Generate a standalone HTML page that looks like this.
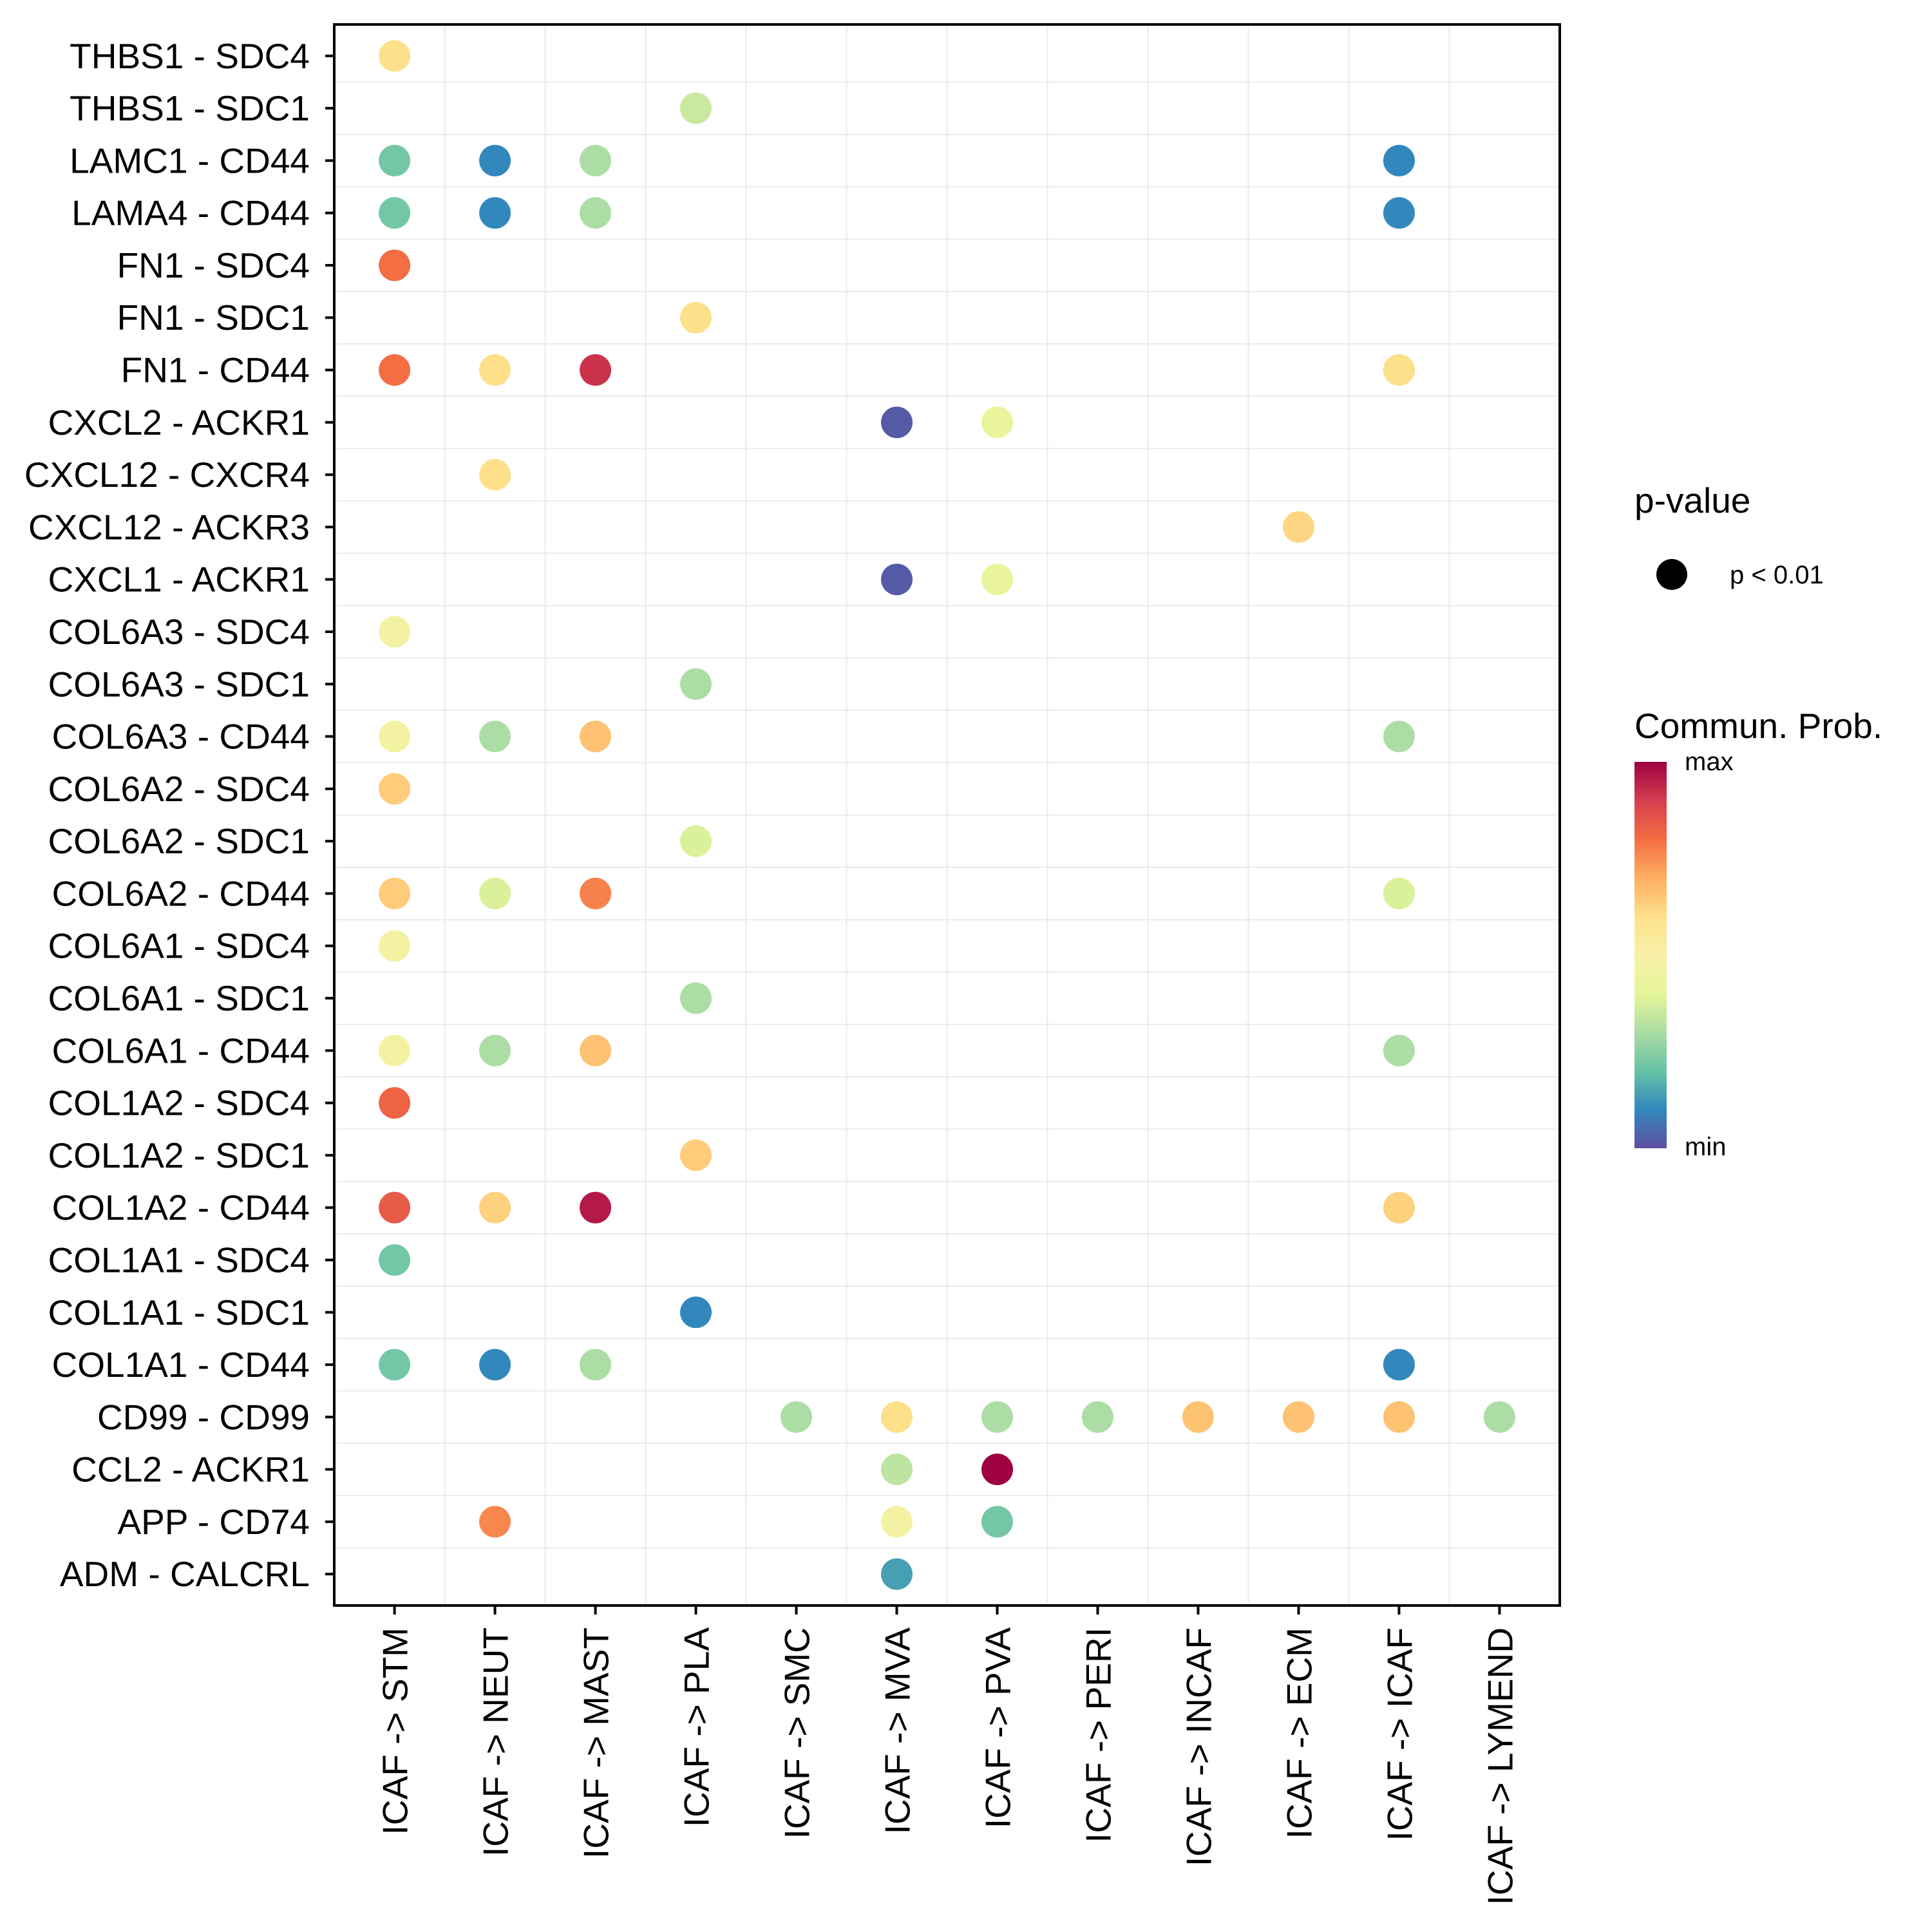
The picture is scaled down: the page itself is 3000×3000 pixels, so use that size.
<!DOCTYPE html>
<html><head><meta charset="utf-8"><style>
html,body{margin:0;padding:0;background:#fff;}
svg{display:block;font-family:"Liberation Sans",Arial,sans-serif;}
</style></head><body>
<svg id="chart" width="3000" height="3000" viewBox="0 0 3000 3000" xmlns="http://www.w3.org/2000/svg">
<defs>
<linearGradient id="spec" x1="0" y1="1" x2="0" y2="0">
<stop offset="0" stop-color="#5E4FA2"/><stop offset="0.1" stop-color="#3288BD"/><stop offset="0.2" stop-color="#66C2A5"/><stop offset="0.3" stop-color="#ABDDA4"/><stop offset="0.4" stop-color="#E6F598"/><stop offset="0.5" stop-color="#F8F0A8"/><stop offset="0.6" stop-color="#FEE08B"/><stop offset="0.7" stop-color="#FDAE61"/><stop offset="0.8" stop-color="#F46D43"/><stop offset="0.9" stop-color="#D53E4F"/><stop offset="1" stop-color="#9E0142"/>
</linearGradient>
</defs>
<g id="grid"></g>
<g id="dots"></g>
<rect x="519" y="38" width="1903" height="2455" fill="none" stroke="#000" stroke-width="4"/>
<g id="yaxis"></g>
<g id="xaxis"></g>
<g>
<text x="2538" y="796" font-size="55">p-value</text>
<circle cx="2596" cy="892" r="24" fill="#000"/>
<text x="2686" y="906" font-size="40">p &lt; 0.01</text>
<text x="2538" y="1146" font-size="55">Commun. Prob.</text>
<rect x="2538" y="1183" width="50" height="600" fill="url(#spec)"/>
<text x="2616" y="1196" font-size="40">max</text>
<text x="2616" y="1794" font-size="40">min</text>
</g>
</svg>
<script>
const rowLabels = ["THBS1 - SDC4","THBS1 - SDC1","LAMC1 - CD44","LAMA4 - CD44","FN1 - SDC4","FN1 - SDC1","FN1 - CD44","CXCL2 - ACKR1","CXCL12 - CXCR4","CXCL12 - ACKR3","CXCL1 - ACKR1","COL6A3 - SDC4","COL6A3 - SDC1","COL6A3 - CD44","COL6A2 - SDC4","COL6A2 - SDC1","COL6A2 - CD44","COL6A1 - SDC4","COL6A1 - SDC1","COL6A1 - CD44","COL1A2 - SDC4","COL1A2 - SDC1","COL1A2 - CD44","COL1A1 - SDC4","COL1A1 - SDC1","COL1A1 - CD44","CD99 - CD99","CCL2 - ACKR1","APP - CD74","ADM - CALCRL"];
const colLabels = ["ICAF -> STM","ICAF -> NEUT","ICAF -> MAST","ICAF -> PLA","ICAF -> SMC","ICAF -> MVA","ICAF -> PVA","ICAF -> PERI","ICAF -> INCAF","ICAF -> ECM","ICAF -> ICAF","ICAF -> LYMEND"];
// dots: [rowIndex, colIndex, probability (0=min..1=max)]
const dotRows = [0,1,2,2,2,2,3,3,3,3,4,5,6,6,6,6,7,7,8,9,10,10,11,12,13,13,13,13,14,15,16,16,16,16,17,18,19,19,19,19,20,21,22,22,22,22,23,24,25,25,25,25,26,26,26,26,26,26,26,26,27,27,28,28,28,29];
const dotCols = [0,3,0,1,2,10,0,1,2,10,0,3,0,1,2,10,5,6,1,9,5,6,0,3,0,1,2,10,0,3,0,1,2,10,0,3,0,1,2,10,0,3,0,1,2,10,0,3,0,1,2,10,4,5,6,7,8,9,10,11,5,6,1,5,6,5];
const dotVals = [0.6,0.35,0.22,0.1,0.3,0.1,0.22,0.1,0.3,0.1,0.8,0.6,0.8,0.6,0.92,0.6,0.02,0.42,0.6,0.62,0.02,0.42,0.47,0.3,0.47,0.3,0.66,0.3,0.64,0.38,0.64,0.38,0.77,0.38,0.47,0.3,0.47,0.3,0.66,0.3,0.82,0.64,0.84,0.63,0.96,0.63,0.22,0.1,0.22,0.1,0.3,0.1,0.3,0.6,0.3,0.3,0.66,0.66,0.66,0.3,0.33,1.0,0.76,0.47,0.22,0.14];

const NS="http://www.w3.org/2000/svg";
const L=519,R=2422,T=38,B=2493;
const xStep=(R-L)/(colLabels.length-1+1.2);
const yStep=(B-T)/(rowLabels.length-1+1.2);
function xScale(i){return L+xStep*(0.6+i);}
function yScale(i){return T+yStep*(0.6+i);}
const stops=[[0,[94,79,162]],[0.1,[50,136,189]],[0.2,[102,194,165]],[0.3,[171,221,164]],[0.4,[230,245,152]],[0.5,[248,240,168]],[0.6,[254,224,139]],[0.7,[253,174,97]],[0.8,[244,109,67]],[0.9,[213,62,79]],[1,[158,1,66]]];
function color(v){
  for(let i=1;i<stops.length;i++){
    if(v<=stops[i][0]){const a=stops[i-1],b=stops[i];const t=(v-a[0])/(b[0]-a[0]);
      const c=a[1].map((x,k)=>Math.round(x+(b[1][k]-x)*t));return `rgb(${c[0]},${c[1]},${c[2]})`;}
  }
  return "rgb(158,1,66)";
}
function mk(tag,attrs,parent){const e=document.createElementNS(NS,tag);for(const k in attrs)e.setAttribute(k,attrs[k]);parent.appendChild(e);return e;}
const grid=document.getElementById('grid');
for(let i=0;i<colLabels.length-1;i++){
  const x=(xScale(i)+xScale(i+1))/2;
  const l=mk('line',{x1:x,x2:x,y1:T,y2:B,stroke:'#ebebeb','stroke-width':2},grid);
  
  
}
for(let i=0;i<rowLabels.length-1;i++){
  const y=(yScale(i)+yScale(i+1))/2;
  const l=mk('line',{x1:L,x2:R,y1:y,y2:y,stroke:'#ebebeb','stroke-width':2},grid);
  
  
}
const yaxis=document.getElementById('yaxis');
rowLabels.forEach((lab,i)=>{
  const y=yScale(i);
  const t=mk('line',{x1:L-14,x2:L,y1:y,y2:y,stroke:'#000','stroke-width':4},yaxis);
  
  
  const tx=mk('text',{x:L-38,y:y+19,'text-anchor':'end','font-size':55},yaxis);
  tx.textContent=lab;
  
  
});
const xaxis=document.getElementById('xaxis');
colLabels.forEach((lab,i)=>{
  const x=xScale(i);
  const t=mk('line',{x1:x,x2:x,y1:B,y2:B+14,stroke:'#000','stroke-width':4},xaxis);
  
  
  const tx=mk('text',{x:0,y:0,'text-anchor':'end','font-size':55,transform:`translate(${x+20},${B+34}) rotate(-90)`},xaxis);
  tx.textContent=lab;
  
  
});
const dots=document.getElementById('dots');
for(let k=0;k<dotVals.length;k++){
  const c=mk('circle',{cx:xScale(dotCols[k]),cy:yScale(dotRows[k]),r:24.5,fill:color(dotVals[k])},dots);
  
  
}
</script>
</body></html>
